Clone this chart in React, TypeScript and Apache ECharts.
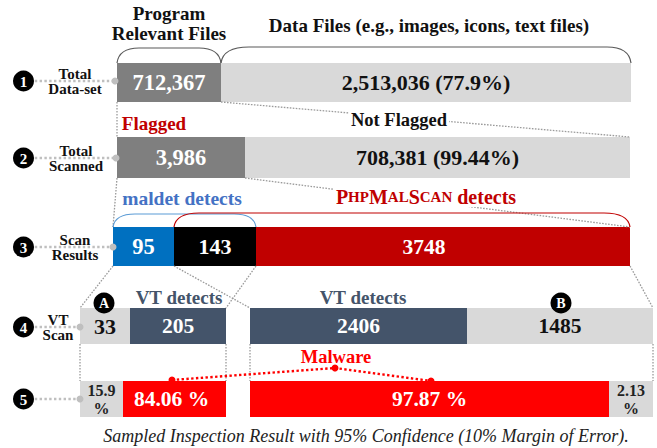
import React, { useEffect, useRef } from "react";
import * as echarts from "echarts";

// ---------- data ----------
const rowNumbers = ["1", "2", "3", "4", "5"];
const rowLabels = [["Total", "Data-set"], ["Total", "Scanned"], ["Scan", "Results"], ["VT", "Scan"], []];
const totalDataSet = ["712,367", "2,513,036 (77.9%)"];
const totalScanned = ["3,986", "708,381 (99.44%)"];
const scanResults = ["95", "143", "3748"];
const vtScan = ["33", "205", "2406", "1485"];
const sampledInspection = ["15.9\n%", "84.06 %", "97.87 %", "2.13\n%"];
const groupHeaders = ["Program\nRelevant Files", "Data Files (e.g., images, icons, text files)"];
const splitLabels = ["Flagged", "Not Flagged"];
const detectorLabels = ["maldet detects", "PhpMalScan detects"];
const vtLabels = ["VT detects", "VT detects"];
const markerLabels = ["A", "B"];
const malwareLabel = "Malware";
const caption = "Sampled Inspection Result with 95% Confidence (10% Margin of Error).";

// ---------- layout / style ----------
const W = 657;
const H = 448;
const SERIF = "'Liberation Serif', 'DejaVu Serif', serif";
const ROW_Y = [[63, 102], [137, 178], [227, 266], [308, 344], [381, 417]];
const SEG_X = [
  [[117, 221], [221, 631]],
  [[117, 245], [245, 630]],
  [[113, 174], [174, 256], [256, 630]],
  [[80, 130], [130, 226], [250, 467], [467, 653]],
  [[80, 123], [123, 226], [250, 609], [609, 653]],
];
const DARK = "#7f7f7f", LIGHT = "#d9d9d9", BLUE = "#0070c0", BLACK = "#000000", DRED = "#c00000", SLATE = "#44546a", RED = "#ff0000";
const SEG_STYLE = [
  [{ fill: DARK, color: "#fff", size: 22.5 }, { fill: LIGHT, color: "#111", size: 22 }],
  [{ fill: DARK, color: "#fff", size: 22.5 }, { fill: LIGHT, color: "#111", size: 22 }],
  [{ fill: BLUE, color: "#fff", size: 22.5 }, { fill: BLACK, color: "#fff", size: 22 }, { fill: DRED, color: "#fff", size: 21.5, dx: -19 }],
  [{ fill: LIGHT, color: "#111", size: 22 }, { fill: SLATE, color: "#fff", size: 21.5 }, { fill: SLATE, color: "#fff", size: 21.5 }, { fill: LIGHT, color: "#111", size: 21.5 }],
  [{ fill: LIGHT, color: "#222", size: 16, lh: 18 }, { fill: RED, color: "#fff", size: 21.5, dx: -3 }, { fill: RED, color: "#fff", size: 21.5 }, { fill: LIGHT, color: "#222", size: 16, lh: 18 }],
];
const ROW_VALUES = [totalDataSet, totalScanned, scanResults, vtScan, sampledInspection];

type Seg = { row: number; x0: number; x1: number; label: string; fill: string; color: string; size: number; dx: number; lh: number };
const segs: Seg[] = [];
ROW_VALUES.forEach((vals, r) => {
  vals.forEach((v, i) => {
    const st: any = SEG_STYLE[r][i];
    segs.push({ row: r, x0: SEG_X[r][i][0], x1: SEG_X[r][i][1], label: v, fill: st.fill, color: st.color, size: st.size, dx: st.dx || 0, lh: st.lh || st.size + 4 });
  });
});

const txt = (text: string, x: number, y: number, font: string, fill: string, extra: any = {}) => ({
  type: "text",
  z: 20,
  style: { text, x, y, font, fill, align: "center", verticalAlign: "middle", textAlign: "center", textVerticalAlign: "middle", ...extra },
});

const dotted = (x1: number, y1: number, x2: number, y2: number) => ({
  type: "line",
  z: 5,
  shape: { x1, y1, x2, y2 },
  style: { stroke: "#9a9a9a", lineWidth: 1.3, lineDash: [1.6, 1.4] },
});

function brace(x0: number, x1: number, yb: number, yt: number, kl: number, kr: number, color: string, lw: number) {
  const st = { stroke: color, fill: "none", lineWidth: lw };
  return [
    { type: "bezierCurve", z: 6, shape: { x1: x0, y1: yb, x2: x0 + kl, y2: yt, cpx1: x0 + 2, cpy1: yt }, style: st },
    { type: "line", z: 6, shape: { x1: x0 + kl, y1: yt, x2: x1 - kr, y2: yt }, style: st },
    { type: "bezierCurve", z: 6, shape: { x1: x1 - kr, y1: yt, x2: x1, y2: yb, cpx1: x1 - 2, cpy1: yt }, style: st },
  ];
}

function buildGraphics() {
  const els: any[] = [];
  // headers
  const [h1a, h1b] = groupHeaders[0].split("\n");
  els.push(txt(h1a, 169, 13, `bold 19px ${SERIF}`, "#111"));
  els.push(txt(h1b, 169, 33, `bold 19px ${SERIF}`, "#111"));
  els.push(txt(groupHeaders[1], 429, 25, `bold 19px ${SERIF}`, "#111"));
  // row 1 braces
  els.push(...brace(SEG_X[0][0][0], SEG_X[0][0][1], ROW_Y[0][0], 48, 22, 22, "#595959", 1.2));
  els.push(...brace(SEG_X[0][1][0], SEG_X[0][1][1], ROW_Y[0][0], 47, 28, 24, "#595959", 1.2));
  // zoom connectors
  els.push(dotted(SEG_X[0][0][0], ROW_Y[0][1], SEG_X[1][0][0], ROW_Y[1][0]));
  els.push(dotted(SEG_X[0][0][1], ROW_Y[0][1], SEG_X[1][1][1], ROW_Y[1][0]));
  els.push(dotted(SEG_X[1][0][0], ROW_Y[1][1], SEG_X[2][0][0], ROW_Y[2][0]));
  els.push(dotted(SEG_X[1][0][1], ROW_Y[1][1], SEG_X[2][2][1], ROW_Y[2][0]));
  els.push(dotted(SEG_X[2][0][0], ROW_Y[2][1], SEG_X[3][0][0], ROW_Y[3][0]));
  els.push(dotted(SEG_X[2][1][1], ROW_Y[2][1], SEG_X[3][1][1], ROW_Y[3][0]));
  els.push(dotted(SEG_X[2][1][0], ROW_Y[2][1], SEG_X[3][2][0], ROW_Y[3][0]));
  els.push(dotted(SEG_X[2][2][1], ROW_Y[2][1], SEG_X[3][3][1], ROW_Y[3][0]));
  els.push(dotted(SEG_X[3][0][0], ROW_Y[3][1], SEG_X[4][0][0], ROW_Y[4][0]));
  els.push(dotted(SEG_X[3][1][1], ROW_Y[3][1], SEG_X[4][1][1], ROW_Y[4][0]));
  els.push(dotted(SEG_X[3][2][0], ROW_Y[3][1], SEG_X[4][2][0], ROW_Y[4][0]));
  els.push(dotted(SEG_X[3][3][1], ROW_Y[3][1], SEG_X[4][3][1], ROW_Y[4][0]));
  // flagged labels
  els.push(txt(splitLabels[0], 154, 123, `bold 19px ${SERIF}`, DRED));
  els.push(txt(splitLabels[1], 399, 120, `bold 18.5px ${SERIF}`, "#111", { backgroundColor: "#fff", padding: [0, 2] }));
  // row 3 braces
  els.push(...brace(SEG_X[2][0][0], SEG_X[2][1][1], ROW_Y[2][0], 214, 22, 22, "#5b9bd5", 1.2));
  els.push(...brace(SEG_X[2][1][0], SEG_X[2][2][1], ROW_Y[2][0], 213, 25, 26, DRED, 1.2));
  els.push(txt(detectorLabels[0], 182, 198, `bold 19.5px ${SERIF}`, "#4472c4"));
  const m = detectorLabels[1].match(/^Php(Mal)(Scan)(.*)$/);
  const rich = {
    b: { font: `bold 20px ${SERIF}`, fill: DRED },
    s: { font: `bold 15px ${SERIF}`, fill: DRED },
  };
  const richText = m
    ? `{b|P}{s|HP}{b|M}{s|${m[1].slice(1).toUpperCase()}}{b|S}{s|${m[2].slice(1).toUpperCase()}}{b|${m[3]}}`
    : detectorLabels[1];
  els.push(txt(richText, 426, 197, `bold 20px ${SERIF}`, DRED, { rich, backgroundColor: "#fff", padding: [0, 2] }));
  // VT labels
  els.push(txt(vtLabels[0], 179, 297, `bold 19px ${SERIF}`, SLATE));
  els.push(txt(vtLabels[1], 363, 297, `bold 19px ${SERIF}`, SLATE));
  // A / B markers
  [[104, 303], [561, 303]].forEach(([x, y], i) => {
    els.push({ type: "circle", z: 15, shape: { cx: x, cy: y, r: 10.5 }, style: { fill: "#000" } });
    els.push(txt(markerLabels[i], x, y + 0.5, `bold 14px ${SERIF}`, "#fff"));
  });
  // Malware line
  const mpts = [[172, 380], [335, 368], [431, 381]];
  els.push({ type: "polyline", z: 15, shape: { points: mpts }, style: { stroke: RED, fill: "none", lineWidth: 2.4, lineDash: [2.4, 2.4] } });
  mpts.forEach(([x, y]) => els.push({ type: "circle", z: 16, shape: { cx: x, cy: y, r: 3.5 }, style: { fill: RED } }));
  els.push(txt(malwareLabel, 336, 357, `bold 18.5px ${SERIF}`, RED));
  // caption
  els.push(txt(caption, 366, 436, `italic 18px ${SERIF}`, "#222"));
  // row number markers
  const numY = [81, 158, 247, 327, 399];
  const endX = [115, 116, 113, 80, 80];
  const labX = [75, 76, 75, 58, 0];
  numY.forEach((y, i) => {
    els.push({ type: "line", z: 8, shape: { x1: 30, y1: y, x2: endX[i], y2: y }, style: { stroke: "#bfbfbf", lineWidth: 2.4, lineDash: [2.4, 2.4] } });
    els.push({ type: "circle", z: 9, shape: { cx: endX[i], cy: y, r: 3.5 }, style: { fill: "#bfbfbf" } });
    els.push({ type: "circle", z: 10, shape: { cx: 23.5, cy: y, r: 10.5 }, style: { fill: "#000" } });
    els.push(txt(rowNumbers[i], 23.5, y + 0.5, `bold 15px ${SERIF}`, "#fff"));
    if (rowLabels[i].length) {
      els.push(txt(rowLabels[i][0], labX[i], y - 7.5, `bold 15px ${SERIF}`, "#111"));
      els.push(txt(rowLabels[i][1], labX[i], y + 8, `bold 15px ${SERIF}`, "#111"));
    }
  });
  return els;
}

export default function App() {
  const ref = useRef<HTMLDivElement>(null);
  useEffect(() => {
    if (!ref.current) return;
    const chart = echarts.init(ref.current, null, { renderer: "svg" });
    chart.setOption({
      animation: false,
      backgroundColor: "#ffffff",
      grid: { left: 0, right: 0, top: 0, bottom: 0 },
      xAxis: { type: "value", min: 0, max: W, show: false },
      yAxis: { type: "value", min: 0, max: H, inverse: true, show: false },
      series: [
        {
          type: "custom",
          silent: true,
          clip: false,
          data: segs.map((_, i) => [i]),
          renderItem: (_params: any, api: any) => {
            const s = segs[api.value(0)];
            const p0 = api.coord([s.x0, ROW_Y[s.row][0]]);
            const p1 = api.coord([s.x1, ROW_Y[s.row][1]]);
            return {
              type: "group",
              children: [
                { type: "rect", shape: { x: p0[0], y: p0[1], width: p1[0] - p0[0], height: p1[1] - p0[1] }, style: { fill: s.fill } },
                {
                  type: "text",
                  style: {
                    text: s.label,
                    x: (p0[0] + p1[0]) / 2 + s.dx,
                    y: (p0[1] + p1[1]) / 2,
                    fill: s.color,
                    font: `bold ${s.size}px ${SERIF}`,
                    lineHeight: s.lh,
                    align: "center",
                    verticalAlign: "middle",
                    textAlign: "center",
                    textVerticalAlign: "middle",
                  },
                },
              ],
            };
          },
        },
      ],
      graphic: { elements: buildGraphics() },
    });
    return () => chart.dispose();
  }, []);
  return <div ref={ref} style={{ position: "fixed", left: 0, top: 0, width: W, height: H, background: "#fff" }} />;
}
